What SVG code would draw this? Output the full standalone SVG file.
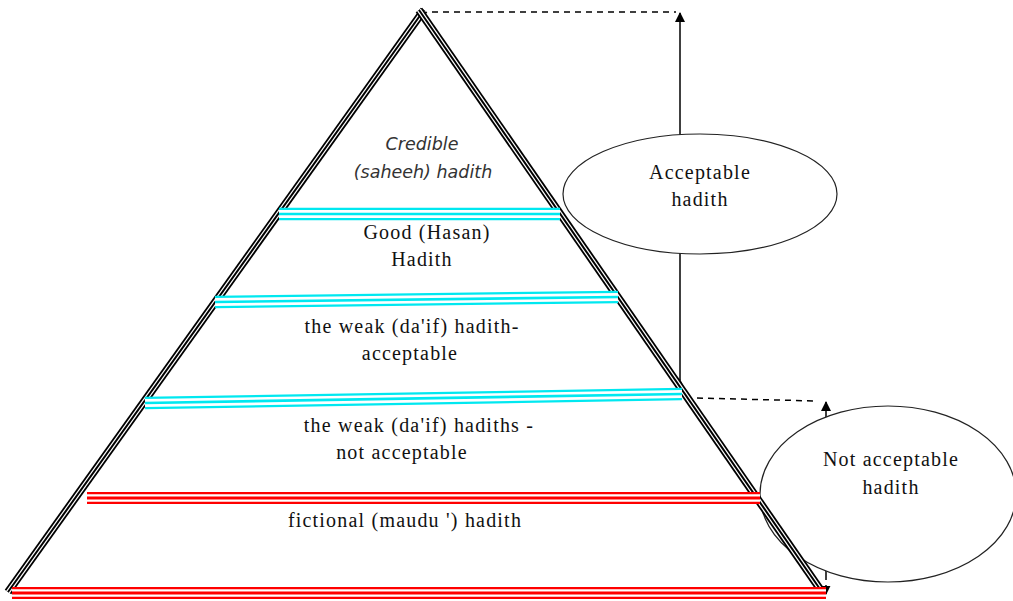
<svg xmlns="http://www.w3.org/2000/svg" width="1013" height="601" viewBox="0 0 1013 601">
<style>
.serif{font-family:"Liberation Serif","Times New Roman",serif;font-size:20px;fill:#111;letter-spacing:1.2px;text-anchor:middle}
.ital{font-family:"DejaVu Sans",Verdana,sans-serif;font-style:italic;font-size:17.5px;fill:#333;text-anchor:middle}
.ell{fill:#fff;stroke:#222;stroke-width:1.2}
.eo{stroke:#000;stroke-width:8;stroke-linecap:butt}
.ew{stroke:#fff;stroke-width:4.4;stroke-linecap:butt}
.ec{stroke:#000;stroke-width:2;stroke-linecap:butt}
.co{stroke:#00e8f0;stroke-width:12.5}
.cw{stroke:#fff;stroke-width:8}
.cc{stroke:#00e8f0;stroke-width:2.6}
.ro{stroke:#ff0000;stroke-width:12}
.rw{stroke:#fff;stroke-width:7.5}
.rc{stroke:#ff0000;stroke-width:3}
.dash{stroke:#000;stroke-width:1.5;stroke-dasharray:6,5;fill:none}
.arr{stroke:#000;stroke-width:1.5;fill:none}
</style>
<defs>
<marker id="ah" viewBox="0 0 10 10" refX="9" refY="5" markerWidth="10" markerHeight="10" markerUnits="userSpaceOnUse" orient="auto">
<path d="M0,0 L10,5 L0,10 Z" fill="#000"/>
</marker>
<marker id="ahs" viewBox="0 0 10 10" refX="9" refY="5" markerWidth="9" markerHeight="9" markerUnits="userSpaceOnUse" orient="auto">
<path d="M0,0 L10,5 L0,10 Z" fill="#000"/>
</marker>
</defs>
<rect width="1013" height="601" fill="#fff"/>

<g id="connectors">
<line class="arr" x1="680" y1="380" x2="680" y2="13" marker-end="url(#ah)" marker-start="url(#ahs)"/>
<line class="arr" x1="826" y1="580" x2="826" y2="402" marker-end="url(#ah)"/>
<line class="arr" x1="826" y1="585" x2="826" y2="594" marker-end="url(#ahs)"/>
<line class="dash" x1="432" y1="12" x2="676" y2="12"/>
<line class="dash" x1="697" y1="398" x2="816" y2="401"/>
</g>

<g id="acceptable">
<ellipse class="ell" cx="700" cy="194" rx="137" ry="60"/>
<text class="serif" x="700" y="179">Acceptable</text>
<text class="serif" x="700" y="206">hadith</text>
</g>

<g id="not-acceptable">
<ellipse class="ell" cx="888" cy="494" rx="128" ry="88"/>
<text class="serif" x="891" y="466">Not acceptable</text>
<text class="serif" x="891" y="494">hadith</text>
</g>

<g id="pyramid">
<line class="eo" x1="424" y1="10" x2="8" y2="592"/>
<line class="ew" x1="424" y1="10" x2="8" y2="592"/>
<line class="ec" x1="424" y1="10" x2="8" y2="592"/>
<line class="eo" x1="419" y1="10" x2="822" y2="592"/>
<line class="ew" x1="419" y1="10" x2="822" y2="592"/>
<line class="ec" x1="419" y1="10" x2="822" y2="592"/>
</g>

<g id="bands">
<line class="co" x1="279" y1="214" x2="560" y2="214"/>
<line class="cw" x1="279" y1="214" x2="560" y2="214"/>
<line class="cc" x1="279" y1="214" x2="560" y2="214"/>
<line class="co" x1="215" y1="302" x2="618" y2="297"/>
<line class="cw" x1="215" y1="302" x2="618" y2="297"/>
<line class="cc" x1="215" y1="302" x2="618" y2="297"/>
<line class="co" x1="145" y1="403" x2="682" y2="394"/>
<line class="cw" x1="145" y1="403" x2="682" y2="394"/>
<line class="cc" x1="145" y1="403" x2="682" y2="394"/>
<line class="ro" x1="87" y1="498" x2="760" y2="498"/>
<line class="rw" x1="87" y1="498" x2="760" y2="498"/>
<line class="rc" x1="87" y1="498" x2="760" y2="498"/>
<line class="ro" x1="12" y1="593" x2="826" y2="593"/>
<line class="rw" x1="12" y1="593" x2="826" y2="593"/>
<line class="rc" x1="12" y1="593" x2="826" y2="593"/>
</g>

<g id="tier-saheeh">
<text class="ital" x="422" y="150">Credible</text>
<text class="ital" x="423" y="178">(saheeh) hadith</text>
</g>
<g id="tier-hasan">
<text class="serif" x="427" y="239">Good (Hasan)</text>
<text class="serif" x="422" y="266">Hadith</text>
</g>
<g id="tier-daif-acceptable">
<text class="serif" x="412" y="333">the weak (da'if) hadith-</text>
<text class="serif" x="410" y="360">acceptable</text>
</g>
<g id="tier-daif-not">
<text class="serif" x="419" y="432">the weak (da'if) hadiths -</text>
<text class="serif" x="402" y="459">not acceptable</text>
</g>
<g id="tier-maudu">
<text class="serif" x="405" y="527">fictional (maudu ') hadith</text>
</g>
</svg>
